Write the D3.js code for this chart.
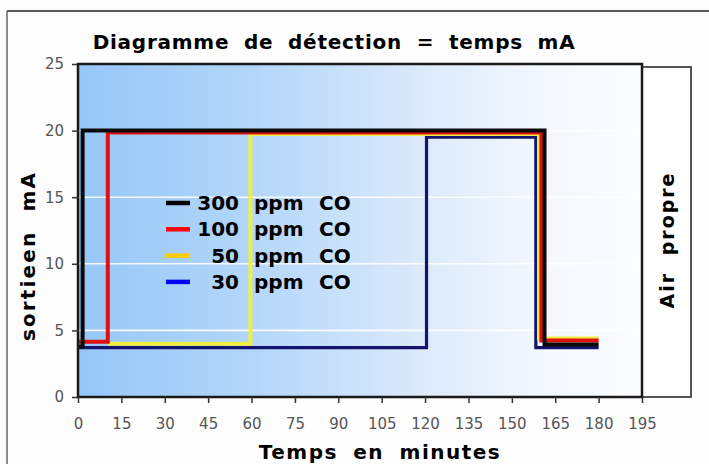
<!DOCTYPE html>
<html><head><meta charset="utf-8">
<script src="https://cdn.jsdelivr.net/npm/d3@7"></script>
<style>body{margin:0;background:#fdfdfd;}svg{display:block;}</style>
</head><body>
<svg id="c" width="709" height="464"></svg>
<script>
const title = "Diagramme de détection = temps mA";
const xTitle = "Temps en minutes";
const yTitle = "sortieen mA";
const sideLabel = "Air propre";
const xTicks = [0,15,30,45,60,75,90,105,120,135,150,165,180,195];
const yTicks = [0,5,10,15,20,25];
const gridValues = [5,10,15,20];
const seriesNames = ["300 ppm CO","100 ppm CO","50 ppm CO","30 ppm CO"];
const seriesNums = ["300","100","50","30"];
const legendColors = ["#000000","#ff0000","#ffcc00","#0000ff"];
const lineColors = ["#0a0a0a","#e01010","#f0ee40","#14146e"];
// step series: [time (min), mA]
const s300 = [[0,3.8],[1.6,3.8],[1.6,20],[161.3,20],[161.3,3.95],[180,3.95]];
const s100 = [[0,4.15],[10.3,4.15],[10.3,19.85],[160.2,19.85],[160.2,4.25],[180,4.25]];
const s50  = [[10.3,4.0],[59.6,4.0],[59.6,19.75],[159.4,19.75],[159.4,4.4],[180,4.4]];
const s30  = [[0,3.7],[120.5,3.7],[120.5,19.5],[158.3,19.5],[158.3,3.7],[180,3.7]];
const seriesData = [s300,s100,s50,s30];

const svg = d3.select("#c");
const x = d3.scaleLinear().domain([0,195]).range([78,642]);
const y = d3.scaleLinear().domain([0,25]).range([397,64]);
const FONT = "'DejaVu Sans', Verdana, sans-serif";

function fitText(sel, target, ws){
  const txt = sel.text();
  const n = txt.split(" ").length - 1;
  const w = sel.node().getComputedTextLength();
  const ls = Math.max(0,(target - w - ws*n)/(txt.length-1));
  sel.attr("word-spacing", ws).attr("letter-spacing", ls);
}

// outer frame
svg.append("line").attr("x1",7).attr("x2",709).attr("y1",11).attr("y2",11).attr("stroke","#222").attr("stroke-width",1.5);
svg.append("line").attr("x1",7).attr("x2",7).attr("y1",11).attr("y2",464).attr("stroke","#666").attr("stroke-width",1.5);

// gradient
const defs = svg.append("defs");
const g = defs.append("linearGradient").attr("id","bg").attr("x1","0").attr("x2","1").attr("y1","0").attr("y2","0");
[[0,"#96c7f8"],[0.3,"#b2d6f9"],[0.6,"#dae9fb"],[0.82,"#f3f8fe"],[1,"#fbfdff"]].forEach(d=>g.append("stop").attr("offset",d[0]).attr("stop-color",d[1]));

// side box "Air propre"
svg.append("rect").attr("x",x(195)).attr("y",67).attr("width",691-x(195)).attr("height",y(0)-67)
  .attr("fill","#ffffff").attr("stroke","#444").attr("stroke-width",1.8);
const side = svg.append("text").attr("transform",`translate(${(x(195)+691)/2+7},240) rotate(-90)`)
  .attr("text-anchor","middle").attr("font-family",FONT).attr("font-weight","bold").attr("font-size",19)
  .attr("fill","#000").text(sideLabel);
fitText(side,135,8);

// plot background
svg.append("rect").attr("x",x(0)).attr("y",y(25)).attr("width",x(195)-x(0)).attr("height",y(0)-y(25)).attr("fill","url(#bg)");

// gridlines
svg.append("g").selectAll("line").data(gridValues).join("line")
  .attr("x1",x(0)).attr("x2",x(195)).attr("y1",d=>y(d)).attr("y2",d=>y(d))
  .attr("stroke","#ffffff").attr("stroke-width",1.6).attr("opacity",0.9);

// series lines
const line = d3.line().x(d=>x(d[0])).y(d=>y(d[1]));
const order = [3,2,1,0];
const widths = [4,4,4,3.2];
svg.append("g").selectAll("path").data(order).join("path")
  .attr("d",i=>line(seriesData[i])).attr("fill","none")
  .attr("stroke",i=>lineColors[i]).attr("stroke-width",i=>widths[i]).attr("stroke-linejoin","miter");

// plot border
svg.append("rect").attr("x",x(0)).attr("y",y(25)).attr("width",x(195)-x(0)).attr("height",y(0)-y(25))
  .attr("fill","none").attr("stroke","#1a1a1a").attr("stroke-width",2.5);

// axes
const ya = svg.append("g").attr("transform",`translate(${x(0)},0)`)
  .call(d3.axisLeft(y).tickValues(yTicks).tickSize(6).tickPadding(8));
const xa = svg.append("g").attr("transform",`translate(0,${y(0)})`)
  .call(d3.axisBottom(x).tickValues(xTicks).tickSize(6).tickPadding(15));
[ya,xa].forEach(a=>{
  a.select(".domain").remove();
  a.selectAll(".tick line").attr("stroke","#333").attr("stroke-width",1.5);
  a.selectAll(".tick text").attr("font-family",FONT).attr("font-size",15).attr("fill","#555");
});

// titles
const t1 = svg.append("text").attr("x",334).attr("y",49).attr("text-anchor","middle")
  .attr("font-family",FONT).attr("font-weight","bold").attr("font-size",20).text(title);
fitText(t1,482,7);
const t2 = svg.append("text").attr("x",380).attr("y",459).attr("text-anchor","middle")
  .attr("font-family",FONT).attr("font-weight","bold").attr("font-size",20).text(xTitle);
fitText(t2,241,7);
const t3 = svg.append("text").attr("transform","translate(35,256) rotate(-90)").attr("text-anchor","middle")
  .attr("font-family",FONT).attr("font-weight","bold").attr("font-size",20).text(yTitle);
fitText(t3,168,10);

// legend
const lg = svg.append("g");
const rows = lg.selectAll("g").data(seriesNames).join("g")
  .attr("transform",(d,i)=>`translate(0,${203+i*26.3})`);
rows.append("line").attr("x1",166).attr("x2",190).attr("y1",0).attr("y2",0)
  .attr("stroke",(d,i)=>legendColors[i]).attr("stroke-width",4.5);
rows.append("text").attr("x",239).attr("y",7).attr("text-anchor","end")
  .attr("font-family",FONT).attr("font-weight","bold").attr("font-size",20).text((d,i)=>seriesNums[i]);
rows.append("text").attr("x",254).attr("y",7)
  .attr("font-family",FONT).attr("font-weight","bold").attr("font-size",20).text("ppm");
rows.append("text").attr("x",319).attr("y",7)
  .attr("font-family",FONT).attr("font-weight","bold").attr("font-size",20).text("CO");
</script>
</body></html>
